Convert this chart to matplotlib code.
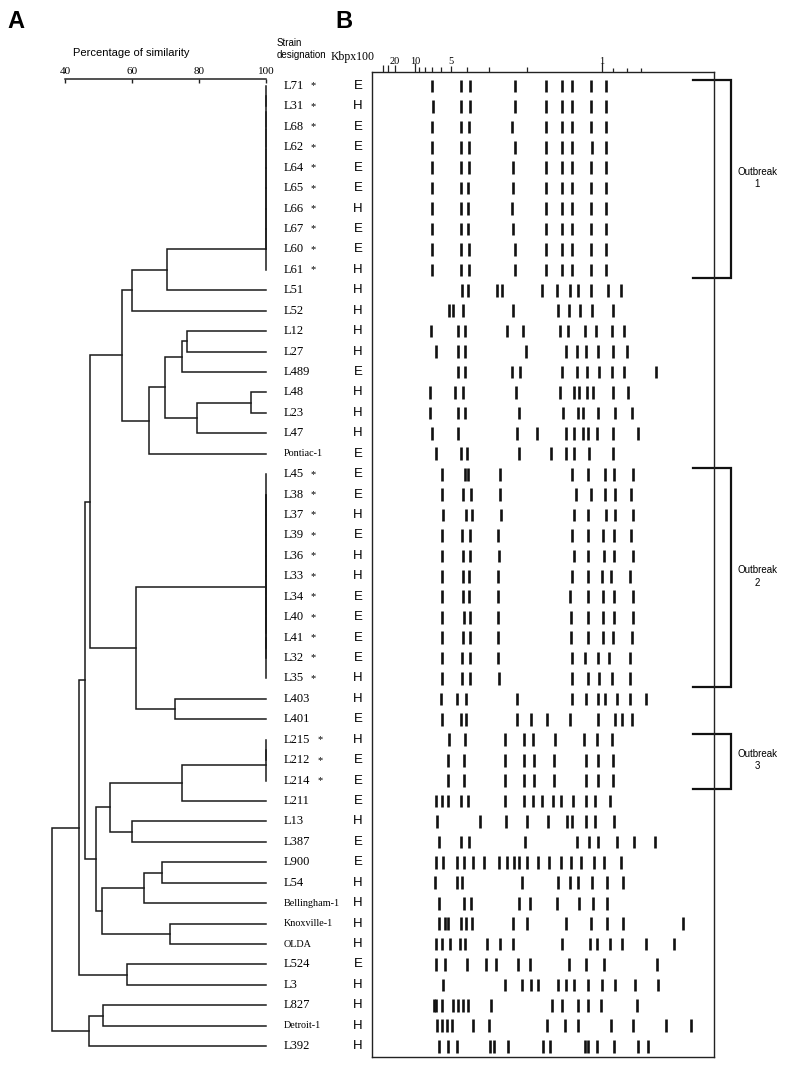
import matplotlib
matplotlib.use("Agg")
import matplotlib.pyplot as plt
import matplotlib.transforms as mtransforms

# ---------------- data ----------------
strains = ["L71", "L31", "L68", "L62", "L64", "L65", "L66", "L67", "L60", "L61",
           "L51", "L52", "L12", "L27", "L489", "L48", "L23", "L47", "Pontiac-1",
           "L45", "L38", "L37", "L39", "L36", "L33", "L34", "L40", "L41", "L32", "L35",
           "L403", "L401", "L215", "L212", "L214", "L211", "L13", "L387", "L900", "L54",
           "Bellingham-1", "Knoxville-1", "OLDA", "L524", "L3", "L827", "Detroit-1", "L392"]
origin = ["E", "H", "E", "E", "E", "E", "H", "E", "E", "H",
          "H", "H", "H", "H", "E", "H", "H", "H", "E",
          "E", "E", "H", "E", "H", "H", "E", "E", "E", "E", "H",
          "H", "E", "H", "E", "E", "E", "H", "E", "E", "H",
          "H", "H", "H", "E", "H", "H", "H", "H"]
starred = ["L71", "L31", "L68", "L62", "L64", "L65", "L66", "L67", "L60", "L61",
           "L45", "L38", "L37", "L39", "L36", "L33", "L34", "L40", "L41", "L32", "L35",
           "L215", "L212", "L214"]

# band migration distances (gel units from left edge of panel B)
bands = [
    [60, 89, 98, 143, 174, 190, 200, 219, 234],
    [61, 89, 98, 143, 174, 190, 200, 219, 234],
    [60, 89, 97, 140, 174, 190, 200, 219, 234],
    [60, 89, 97, 143, 174, 190, 200, 220, 234],
    [60, 89, 97, 141, 174, 190, 200, 219, 234],
    [60, 89, 96, 141, 174, 190, 200, 219, 234],
    [60, 89, 96, 140, 174, 190, 200, 219, 234],
    [60, 89, 96, 141, 174, 190, 200, 219, 234],
    [60, 89, 97, 143, 174, 190, 200, 219, 234],
    [60, 89, 97, 143, 174, 190, 200, 219, 234],
    [90, 96, 125, 130, 170, 185, 198, 206, 219, 236, 249],
    [77, 81, 91, 141, 186, 197, 208, 220, 241],
    [59, 86, 93, 135, 151, 188, 196, 213, 224, 240, 252],
    [64, 86, 93, 154, 194, 205, 214, 226, 241, 255],
    [86, 93, 140, 148, 190, 205, 215, 227, 240, 252, 284],
    [58, 83, 91, 144, 188, 202, 207, 215, 221, 241, 256],
    [58, 86, 93, 147, 191, 206, 211, 226, 243, 260],
    [60, 86, 145, 165, 194, 202, 211, 216, 225, 241, 266],
    [64, 89, 95, 147, 179, 194, 202, 217, 241],
    [70, 93, 96, 128, 200, 216, 233, 242, 261],
    [70, 91, 99, 128, 204, 219, 233, 243, 259],
    [71, 94, 100, 129, 202, 216, 234, 243, 261],
    [70, 90, 98, 126, 200, 216, 231, 242, 259],
    [70, 91, 98, 127, 202, 216, 232, 242, 261],
    [70, 91, 97, 126, 200, 216, 230, 239, 258],
    [70, 91, 97, 126, 198, 216, 231, 242, 261],
    [70, 92, 98, 126, 199, 216, 231, 242, 261],
    [70, 91, 98, 126, 199, 216, 231, 241, 260],
    [70, 90, 98, 126, 200, 213, 226, 237, 258],
    [70, 90, 98, 127, 200, 216, 227, 240, 258],
    [69, 85, 94, 145, 200, 214, 226, 233, 245, 258, 274],
    [70, 89, 94, 145, 159, 175, 198, 226, 243, 250, 260],
    [77, 93, 133, 152, 161, 183, 212, 225, 240],
    [76, 92, 133, 152, 162, 182, 214, 226, 241],
    [76, 92, 133, 152, 162, 182, 214, 226, 241],
    [64, 70, 76, 89, 96, 133, 152, 161, 170, 181, 189, 201, 214, 223, 238],
    [65, 108, 134, 155, 176, 195, 200, 214, 223, 242],
    [67, 89, 97, 153, 205, 217, 226, 245, 262, 283],
    [64, 71, 85, 92, 101, 112, 127, 135, 142, 147, 155, 166, 177, 189, 199, 209, 222, 232, 249],
    [63, 85, 90, 150, 186, 198, 206, 220, 235, 251],
    [67, 92, 99, 147, 158, 185, 207, 221, 235],
    [67, 73, 76, 89, 94, 100, 141, 155, 194, 219, 235, 251, 311],
    [64, 70, 78, 88, 93, 115, 128, 141, 190, 218, 225, 238, 250, 274, 302],
    [64, 73, 95, 114, 124, 146, 158, 197, 214, 232, 285],
    [71, 133, 150, 159, 166, 186, 194, 202, 216, 230, 243, 263, 286],
    [62, 64, 70, 81, 86, 91, 96, 119, 180, 190, 206, 216, 229, 265],
    [65, 70, 75, 80, 101, 117, 175, 193, 206, 239, 261, 294, 319],
    [67, 76, 85, 118, 122, 136, 171, 178, 213, 216, 225, 242, 266, 276],
]

# size markers (Kb x 100) along the gel
marker_pos = [11, 16, 23, 43, 47, 53, 60, 69, 79, 95, 117, 155, 230, 241, 255, 269]
marker_lab = ["", "", "20", "10", "", "", "", "", "5", "", "", "", "1", "", "", ""]
marker_len = [7, 7, 7, 9, 5, 5, 5, 5, 6, 5, 5, 5, 9, 4, 4, 4]

# identical-pattern clusters (merge order) at 100 % similarity
outbreak1_order = ["L71", "L31", "L68", "L62", "L64", "L65", "L66", "L67", "L60", "L61"]
outbreak2_order = ["L41", "L32", "L40", "L34", "L33", "L36", "L39", "L37", "L38", "L45", "L35"]
outbreak3_order = ["L215", "L212", "L214"]

# UPGMA merges: (node, child a, child b, % similarity)
merges_rest = [
    ("n1", "O1", "L51", 70.3),
    ("n2", "n1", "L52", 59.9),
    ("nF", "L12", "L27", 76.3),
    ("nD", "nF", "L489", 74.8),
    ("nG", "L48", "L23", 95.4),
    ("nE", "nG", "L47", 79.3),
    ("nC", "nD", "nE", 69.8),
    ("nB", "nC", "Pontiac-1", 65.1),
    ("n3", "n2", "nB", 56.9),
    ("n7", "L403", "L401", 72.8),
    ("n5", "O2", "n7", 61.1),
    ("n4", "n3", "n5", 47.4),
    ("n12", "O3", "L211", 74.8),
    ("n14", "L13", "L387", 59.9),
    ("n13", "n12", "n14", 53.4),
    ("n20", "L900", "L54", 68.8),
    ("n18", "n20", "Bellingham-1", 63.6),
    ("n19", "Knoxville-1", "OLDA", 71.3),
    ("n16", "n18", "n19", 50.9),
    ("n15", "n13", "n16", 49.1),
    ("n8", "n4", "n15", 45.9),
    ("n17", "L524", "L3", 58.4),
    ("n10", "n8", "n17", 44.2),
    ("n22", "L827", "Detroit-1", 51.4),
    ("n21", "n22", "L392", 47.1),
    ("root", "n10", "n21", 35.9),
]

outbreaks = [("1", "L71", "L61"), ("2", "L45", "L35"), ("3", "L215", "L214")]


def identical_cluster(node, names, sim=100.0):
    out = []
    prev = names[0]
    for k, n in enumerate(names[1:]):
        nm = node if k == len(names) - 2 else f"{node}_{k}"
        out.append((nm, prev, n, sim))
        prev = nm
    return out


merges = (identical_cluster("O1", outbreak1_order) + identical_cluster("O2", outbreak2_order)
          + identical_cluster("O3", outbreak3_order) + merges_rest)

# ---------------- layout ----------------
W, H = 800, 1074
fig = plt.figure(figsize=(W / 100, H / 100), dpi=100)
SERIF = ["Liberation Serif", "DejaVu Serif"]
SANS = ["Liberation Sans", "DejaVu Sans"]
ROW0, DROW = 86.0, 20.43          # pixel y of first row, row pitch


def row_of(py):
    return (py - ROW0) / DROW


def ax_rect(l, r, t, b):
    return [l / W, 1 - b / H, (r - l) / W, (b - t) / H]


SIM_PX40, SIM_PX100 = 65.3, 266.0


def sim_at(px):
    return 40 + (px - SIM_PX40) * 60 / (SIM_PX100 - SIM_PX40)


# ---- panel A: dendrogram ----
axA = fig.add_axes(ax_rect(30, 266, 79, 1058))
axA.set_xlim(sim_at(30), 100)
axA.set_ylim(row_of(1058), row_of(79))
for s in ["left", "right", "bottom"]:
    axA.spines[s].set_visible(False)
axA.spines["top"].set_bounds(40, 100)
axA.spines["top"].set_linewidth(1.1)
axA.spines["top"].set_color("#222222")
axA.set_yticks([])
axA.xaxis.tick_top()
axA.set_xticks([40, 60, 80, 100])
axA.tick_params(axis="x", direction="in", length=3, width=1.0, pad=2.5, labelsize=8,
                color="#222222")
for lab in axA.get_xticklabels():
    lab.set_fontfamily(SERIF)

ypos = {s: i for i, s in enumerate(strains)}
xpos = {s: 100.0 for s in strains}
for node, a, b, sim in merges:
    ya, yb = ypos[a], ypos[b]
    axA.plot([xpos[a], sim, sim, xpos[b]], [ya, ya, yb, yb], color="#1a1a1a", lw=1.1,
             solid_joinstyle="miter", clip_on=False)
    ypos[node] = (ya + yb) / 2
    xpos[node] = sim

fig.text(131 / W, 1 - 53 / H, "Percentage of similarity", ha="center", va="center",
         fontsize=8, family=SANS)
fig.text(277 / W, 1 - 48.5 / H, "Strain\ndesignation", ha="left", va="center",
         fontsize=7, family=SANS, linespacing=1.25)
fig.text(7 / W, 1 - 22 / H, "A", ha="left", va="center", fontsize=17, fontweight="bold",
         family=SANS)
fig.text(335 / W, 1 - 22 / H, "B", ha="left", va="center", fontsize=17, fontweight="bold",
         family=SANS)

# ---- panel B: gel patterns ----
axB = fig.add_axes(ax_rect(372, 714, 72, 1057))
axB.set_xlim(0, 342)
axB.set_ylim(row_of(1057), row_of(72))
for s in axB.spines.values():
    s.set_linewidth(1.0)
    s.set_color("#222222")
axB.set_yticks([])
axB.xaxis.tick_top()
axB.set_xticks(marker_pos)
axB.set_xticklabels(marker_lab)
axB.tick_params(axis="x", direction="out", width=0.9, pad=1, labelsize=7.5, color="#222222")
for lab in axB.get_xticklabels():
    lab.set_fontfamily(SERIF)
for t, ln in zip(axB.xaxis.get_major_ticks(), marker_len):
    t.tick2line.set_markersize(ln * 0.72)

for i, row in enumerate(bands):
    axB.vlines(row, i - 0.31, i + 0.31, color="#111111", lw=1.9)

fig.text(331 / W, 1 - 57 / H, "Kbpx100", ha="left", va="center", fontsize=8.5, family=SERIF)

# outbreak brackets
for lab, first, last in outbreaks:
    r0, r1 = strains.index(first), strains.index(last)
    y0, y1 = r0 - 0.3, r1 + 0.42
    axB.plot([321, 359, 359, 321], [y0, y0, y1, y1], color="#111111", lw=1.6,
             clip_on=False, solid_joinstyle="miter")
    axB.text(385, (r0 + r1) / 2, f"Outbreak\n{lab}", ha="center", va="center", fontsize=7,
             family=SANS, linespacing=1.3, clip_on=False)

# strain labels and origin letters
trans = mtransforms.blended_transform_factory(fig.transFigure, axB.transData)
for i, (s, o) in enumerate(zip(strains, origin)):
    small = not s.startswith("L")
    fig.text(284 / W, i, s, transform=trans, ha="left", va="center",
             fontsize=7.3 if small else 9, family=SERIF)
    if s in starred:
        xs = 320 if len(s) > 3 else 313
        fig.text(xs / W, i, "*", transform=trans, ha="center", va="center", fontsize=7.5,
                 family=SERIF)
    fig.text(358 / W, i, o, transform=trans, ha="center", va="center", fontsize=9.5,
             family=SANS)

fig.savefig("out.png", dpi=100, facecolor="white")
